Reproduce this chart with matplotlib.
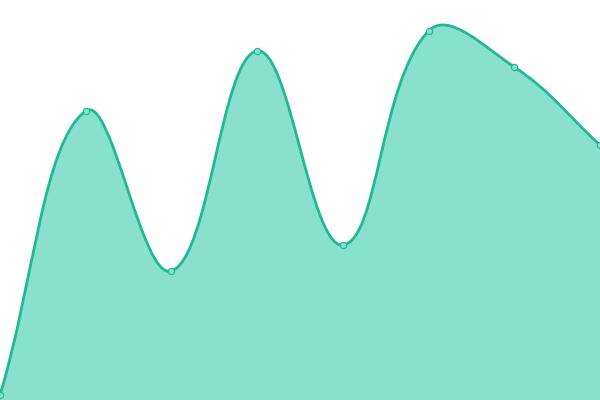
import numpy as np
import matplotlib
matplotlib.use('Agg')
import matplotlib.pyplot as plt
from matplotlib.path import Path
from matplotlib.patches import PathPatch

#data
values = [5, 289, 129, 349, 155, 369, 333, 255]

lineColor = '#1fb995'
fillColor = '#89e0cf'
tension = 0.4

x = np.arange(len(values), dtype=float)
y = np.array(values, dtype=float)

fig = plt.figure(figsize=(6, 4), dpi=100)
ax = fig.add_axes([0, 0, 1, 1])
ax.set_xlim(0, len(values) - 1)
ax.set_ylim(0, 400)
ax.axis('off')

#spline control points worked out in screen space (chart.js style)
pts = ax.transData.transform(np.column_stack([x, y]))
n = len(pts)
cps = []
for i in range(n):
    cur = pts[i]
    prev = pts[i - 1] if i > 0 else cur
    nxt = pts[i + 1] if i < n - 1 else cur
    d01 = np.hypot(*(cur - prev))
    d12 = np.hypot(*(nxt - cur))
    tot = d01 + d12
    s01 = d01 / tot if tot > 0 else 0
    s12 = d12 / tot if tot > 0 else 0
    cps.append((cur - tension * s01 * (nxt - prev), cur + tension * s12 * (nxt - prev)))

screenVerts = [pts[0]]
codes = [Path.MOVETO]
for i in range(n - 1):
    screenVerts += [cps[i][1], cps[i + 1][0], pts[i + 1]]
    codes += [Path.CURVE4] * 3
verts = list(ax.transData.inverted().transform(np.array(screenVerts)))

fillVerts = verts + [(x[-1], 0), (x[0], 0), (x[0], y[0])]
fillCodes = codes + [Path.LINETO, Path.LINETO, Path.CLOSEPOLY]

ax.add_patch(PathPatch(Path(fillVerts, fillCodes), facecolor=fillColor, edgecolor='none', zorder=1))
ax.add_patch(PathPatch(Path(verts, codes), facecolor='none', edgecolor=lineColor, lw=2.0, zorder=2))
ax.plot(x, y, 'o', ms=4.5, mfc=fillColor, mec=lineColor, mew=0.8, zorder=3, clip_on=False)

fig.savefig('out.png', dpi=100)
